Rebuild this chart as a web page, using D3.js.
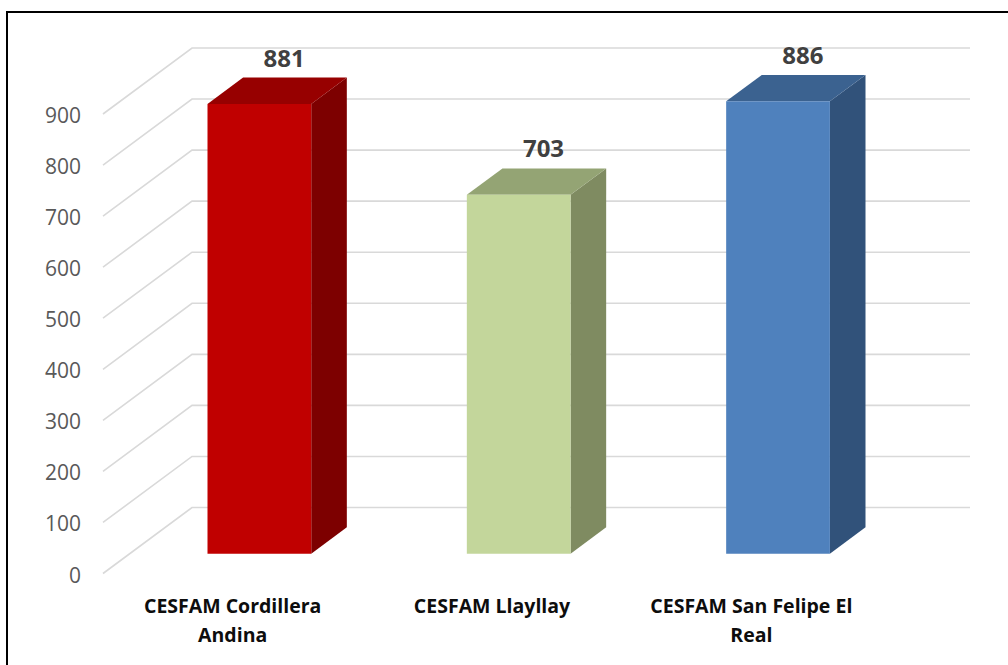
<!DOCTYPE html>
<html>
<head>
<meta charset="utf-8">
<script src="https://cdn.jsdelivr.net/npm/d3@7"></script>
<style>
  html, body { margin: 0; padding: 0; background: #fff; }
  svg { display: block; }
</style>
</head>
<body>
<svg id="chart" width="1008" height="665"></svg>
<script>
const categories = ["CESFAM Cordillera Andina", "CESFAM Llayllay", "CESFAM San Felipe El Real"];
const values = [881, 703, 886];
const tickValues = [0, 100, 200, 300, 400, 500, 600, 700, 800, 900];
const frontColors = ["#C00000", "#C3D69B", "#4F81BD"];
const topColors = ["#970000", "#94A474", "#3B6290"];
const sideColors = ["#7D0000", "#7F8B61", "#31527A"];

const svg = d3.select("#chart");

// frame
svg.append("rect").attr("x", 7).attr("y", 12).attr("width", 1010).attr("height", 670)
  .attr("fill", "none").attr("stroke", "#000").attr("stroke-width", 2);

// oblique 3D projection: back plane (depth 0) to front plane (depth 1)
const DX = -89, DY = 66;
const x = d3.scaleBand().domain(categories).range([192, 970]).paddingInner(0.6).paddingOuter(0.3);
const y = d3.scaleLinear().domain([0, 900]).range([507.5, 48]);
const proj = (px, v, d) => [px + d * DX, y(v) + d * DY];

// gridlines (floor diagonal + back wall)
const g = svg.append("g");
tickValues.forEach(t => {
  const p0 = proj(192, t, 1), p1 = proj(192, t, 0), p2 = proj(970, t, 0);
  g.append("polyline")
    .attr("points", [p0, p1, p2].map(p => p.join(",")).join(" "))
    .attr("fill", "none").attr("stroke", "#d9d9d9").attr("stroke-width", 1.6);
});

// y tick labels
g.selectAll("text.tick").data(tickValues).join("text")
  .attr("class", "tick")
  .attr("x", 81)
  .attr("y", d => proj(192, d, 1)[1] + 9)
  .attr("text-anchor", "end")
  .attr("font-family", "'Open Sans', sans-serif")
  .attr("font-size", 21)
  .attr("fill", "#595959")
  .text(d => d);

// bars
const dFront = 0.7, dBack = 0.3;
const bars = svg.append("g");
categories.forEach((c, i) => {
  const x0 = x(c), x1 = x(c) + x.bandwidth(), v = values[i];
  const ftl = proj(x0, v, dFront), ftr = proj(x1, v, dFront);
  const fbl = proj(x0, 0, dFront), fbr = proj(x1, 0, dFront);
  const btl = proj(x0, v, dBack), btr = proj(x1, v, dBack), bbr = proj(x1, 0, dBack);
  const poly = pts => pts.map(p => p.join(",")).join(" ");
  bars.append("polygon").attr("points", poly([ftr, btr, bbr, fbr])).attr("fill", sideColors[i]);
  bars.append("polygon").attr("points", poly([ftl, ftr, btr, btl])).attr("fill", topColors[i]);
  bars.append("polygon").attr("points", poly([ftl, ftr, fbr, fbl])).attr("fill", frontColors[i]);
  // value label
  const cx = (ftl[0] + btr[0]) / 2 + 7;
  bars.append("text")
    .attr("x", cx).attr("y", btl[1] - 11)
    .attr("text-anchor", "middle")
    .attr("font-family", "'Open Sans', sans-serif")
    .attr("font-weight", "bold")
    .attr("font-size", 24)
    .attr("fill", "#404040")
    .text(v);
});

// category labels (front edge)
const catG = svg.append("g");
categories.forEach((c, i) => {
  const cx = proj(x(c) + x.bandwidth() / 2, 0, 1)[0];
  const t = catG.append("text")
    .attr("x", cx).attr("y", 613)
    .attr("text-anchor", "middle")
    .attr("font-family", "'Open Sans', sans-serif")
    .attr("font-weight", "bold")
    .attr("font-size", 19.5)
    .attr("fill", "#0d0d0d");
  const words = c.split(" ");
  let line = [];
  let ts = t.append("tspan").attr("x", cx).attr("dy", 0);
  words.forEach(w => {
    line.push(w);
    ts.text(line.join(" "));
    if (ts.node().getComputedTextLength() > 232 && line.length > 1) {
      line.pop();
      ts.text(line.join(" "));
      line = [w];
      ts = t.append("tspan").attr("x", cx).attr("dy", 29).text(w);
    }
  });
});
</script>
</body>
</html>
